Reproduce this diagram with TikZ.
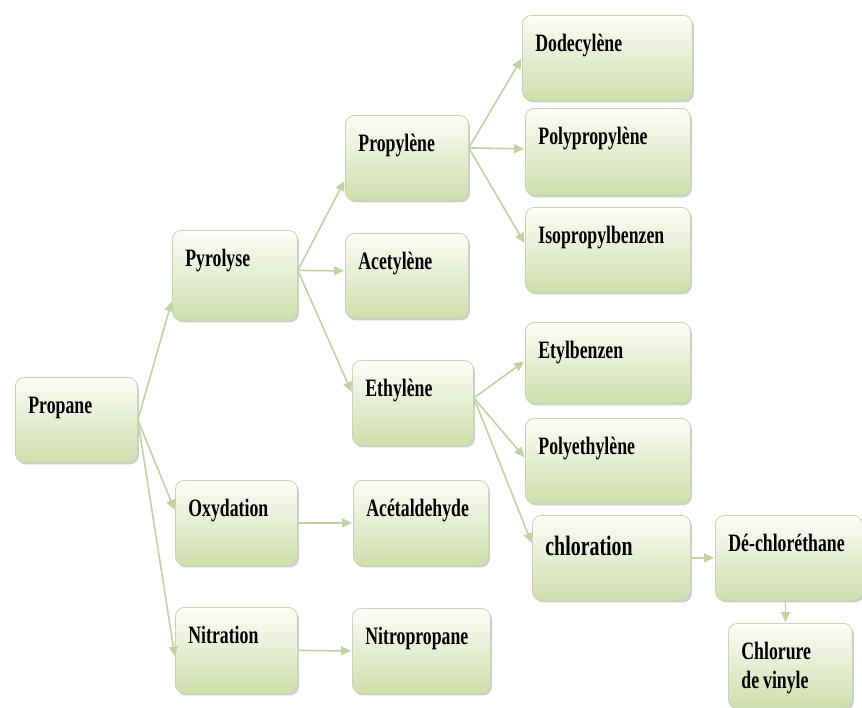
\documentclass[tikz,border=0pt]{standalone}
\usepackage{fontspec}
\setmainfont[FakeStretch=0.71]{Liberation Serif}
\usetikzlibrary{arrows.meta,shadows}
\definecolor{boxgreen}{RGB}{206,222,172}
\definecolor{boxtop}{RGB}{252,253,248}
\definecolor{boxline}{RGB}{200,212,180}
\definecolor{arrowgreen}{RGB}{192,210,160}
\tikzset{
  bx/.style n args={2}{rectangle, rounded corners=9pt, draw=boxline, line width=0.8pt,
    top color=boxtop, bottom color=boxgreen,
    drop shadow={shadow xshift=1.5pt, shadow yshift=-2pt, opacity=0.35, fill=black!55},
    minimum width=#1pt, minimum height=#2pt, inner xsep=13pt, inner ysep=10pt,
    text width={#1pt-26pt}, align=left, anchor=north west,
    font=\fontsize{25}{29}\selectfont\bfseries,
    text height=26pt, text depth={#2pt-46pt}},
  bigbx/.style n args={2}{bx={#1}{#2}, font=\fontsize{28}{32}\selectfont\bfseries,
    text height=30pt, text depth={#2pt-50pt}},
  conn/.style={draw=arrowgreen, line width=1.6pt, -{Triangle[length=10pt,width=9pt]}, shorten >=1pt}
}
\begin{document}
\begin{tikzpicture}[x=1pt,y=-1pt]
\useasboundingbox (0,0) rectangle (862,708);
\node[bx={122}{85}] (Propane) at (15,377) {Propane};
\node[bx={125}{90}] (Pyrolyse) at (172,230) {Pyrolyse};
\node[bx={122}{85}] (Oxydation) at (175,480) {Oxydation};
\node[bx={122}{86}] (Nitration) at (175,607) {Nitration};
\node[bx={123}{85}] (Propylene) at (345,115) {Propylène};
\node[bx={123}{85}] (Acetylene) at (345,233) {Acetylène};
\node[bx={121}{85}] (Ethylene) at (352,360) {Ethylène};
\node[bx={135}{85}] (Acetaldehyde) at (353,480) {Acétaldehyde};
\node[bx={138}{85}] (Nitropropane) at (352,608) {Nitropropane};
\node[bx={170}{85}] (Dodecylene) at (522,15) {Dodecylène};
\node[bx={165}{87}] (Polypropylene) at (525,108) {Polypropylène};
\node[bx={165}{85}] (Isopropylbenzen) at (525,207) {Isopropylbenzen};
\node[bx={165}{81}] (Etylbenzen) at (525,322) {Etylbenzen};
\node[bx={165}{85}] (Polyethylene) at (525,418) {Polyethylène};
\node[bigbx={158}{85}] (Chloration) at (532,515) {chloration};
\node[bx={147}{85}] (Dechlor) at (715,515) {Dé-chloréthane};
\node[bx={124}{85}] (Chlorure) at (728,623) {Chlorure\\de\hspace{4pt}vinyle};

\draw[conn] (Propane.east) -- ([yshift=-25pt]Pyrolyse.west);
\draw[conn] (Propane.east) -- ([yshift=12pt]Oxydation.west);
\draw[conn] (Propane.east) -- ([yshift=-7pt]Nitration.west);

\draw[conn] ([yshift=5pt]Pyrolyse.east) -- ([yshift=-22pt]Propylene.west);
\draw[conn] ([yshift=5pt]Pyrolyse.east) -- ([yshift=5pt]Acetylene.west);
\draw[conn] ([yshift=5pt]Pyrolyse.east) -- ([yshift=10pt]Ethylene.west);

\draw[conn] ([yshift=10pt]Propylene.east) -- (Dodecylene.west);
\draw[conn] ([yshift=10pt]Propylene.east) -- ([yshift=3pt]Polypropylene.west);
\draw[conn] ([yshift=10pt]Propylene.east) -- ([yshift=6pt]Isopropylbenzen.west);

\draw[conn] ([yshift=5pt]Ethylene.east) -- ([yshift=2pt]Etylbenzen.west);
\draw[conn] ([yshift=5pt]Ethylene.east) -- ([yshift=3pt]Polyethylene.west);
\draw[conn] ([yshift=5pt]Ethylene.east) -- ([yshift=14pt]Chloration.west);

\draw[conn] (Chloration.east) -- (Dechlor.west);
\draw[conn] ([xshift=-5pt]Chlorure.north |- Dechlor.south) -- ([xshift=-5pt]Chlorure.north);
\draw[conn] (Oxydation.east) -- (Acetaldehyde.west);
\draw[conn] (Nitration.east) -- (Nitropropane.west);
\end{tikzpicture}
\end{document}
